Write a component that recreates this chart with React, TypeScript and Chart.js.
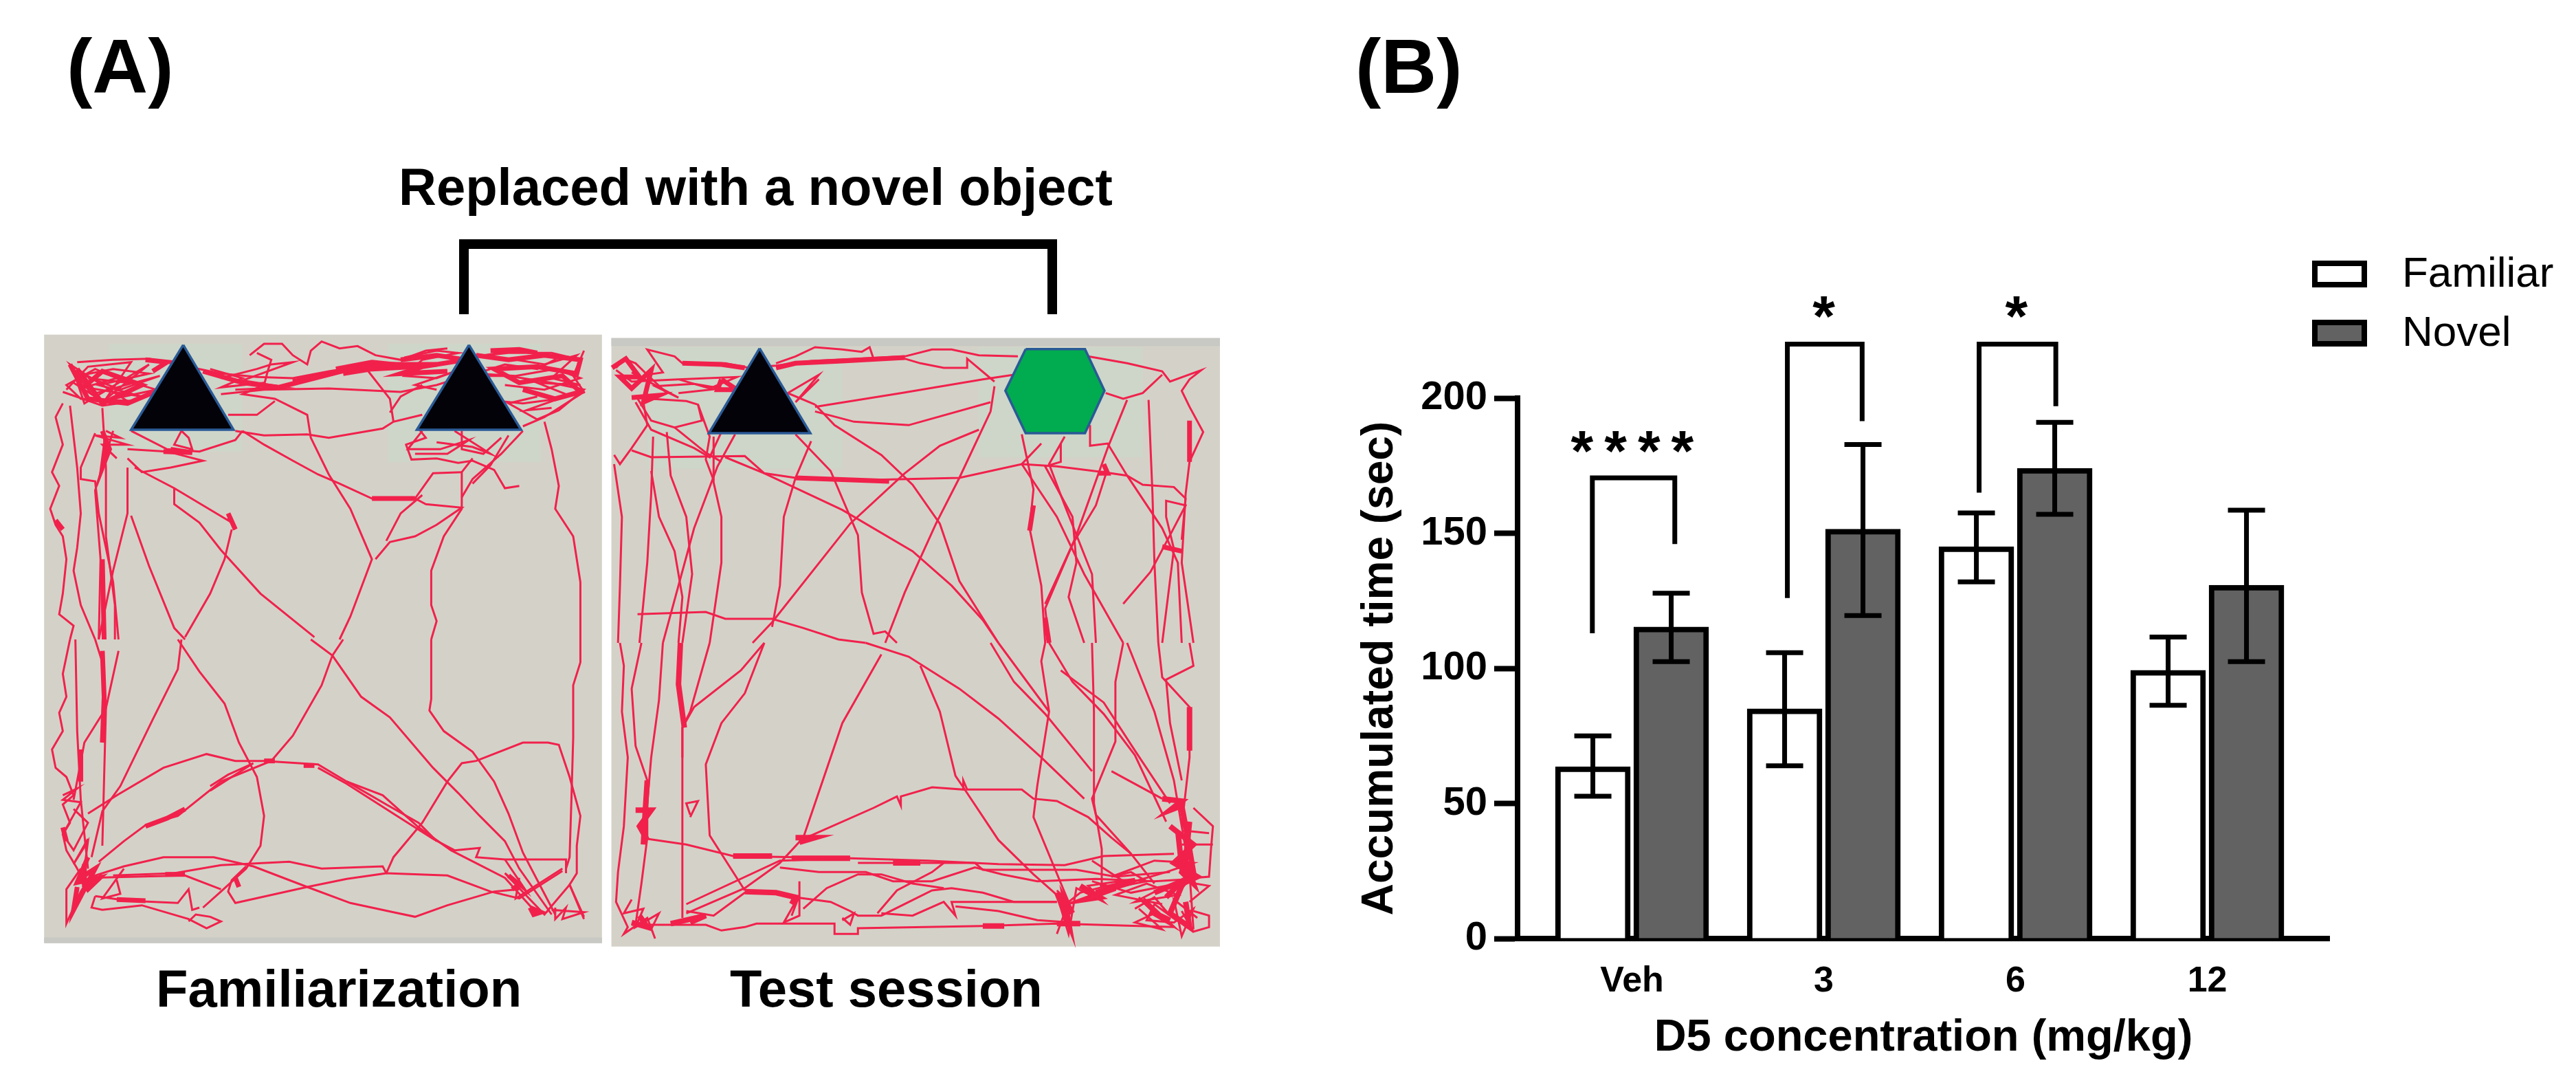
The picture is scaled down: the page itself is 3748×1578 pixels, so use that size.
import React, { useEffect, useRef } from "react";
import { Chart, registerables } from "chart.js";

Chart.register(...registerables);

// ---------- Panel B data ----------
const categories = ["Veh", "3", "6", "12"];
const familiar = [63.6, 85, 145, 99.3];
const novel = [115.3, 151.5, 174, 130.8];
const familiarErrHigh = [75, 105.8, 157.5, 111.6];
const familiarErrLow = [52.7, 63.9, 132, 86.3];
const novelErrHigh = [127.8, 182.8, 191, 158.5];
const novelErrLow = [102.5, 119.5, 157, 102.5];
const yTicks = [0, 50, 100, 150, 200];

// bracket: [x left, x right, y top, y left end, y right end] in axis units
const brackets = [
  [-0.207, 0.223, 170.5, 113, 146],
  [0.81, 1.2, 220, 126, 191.5],
  [1.81, 2.21, 220, 165, 197],
];
const starLabels = ["****", "*", "*"];
const starX = [0.03, 1.0, 2.005];
const starY = [173, 223, 223];

// ---------- Panel A data: tracks in tracker units (x 0-1568, y 0-1350 per half of the arena) ----------
const famUpper: number[][] = [
  [100,140,200,130,300,125,360,145,440,170,500,190,600,205,700,210,800,180,900,155,1000,160,1100,150,1180,120,1300,100,1420,100,1500,130],
  [580,110,620,60,670,60,700,110,740,150,750,90,780,50,830,80,880,70,930,110,1000,130,1070,90,1130,80],
  [600,100,640,130,630,180,620,240,560,280,650,300,740,370,750,470,800,630,860,780,920,1000,860,1250,830,1350],
  [500,280,620,260,800,255,1000,270,1100,240,1180,200,1300,200,1420,230,1510,260,1440,350,1380,390,1300,320,1380,290],
  [520,370,600,370,650,310],
  [540,440,620,460,740,455,800,470,950,430,980,400,1060,370],
  [980,400,970,300,910,180],
  [970,360,1000,290,1060,240],
  [560,440,620,500,700,570,770,630,830,670,920,735,1040,735,1070,760,1170,775,1100,850,1040,900,970,925,930,1000],
  [1060,720,1000,800,960,920],
  [1170,620,1090,625,1040,735],
  [1330,680,1290,690,1260,610,1200,570,1160,580,1100,560,1030,565,1015,500,1070,470,1050,430],
  [1200,560,1170,620,1170,700,1170,780,1120,900,1085,1050,1085,1200,1100,1270,1085,1350],
  [1340,440,1280,540,1200,650,1170,730],
  [1300,460,1250,590,1200,670],
  [1170,440,1170,520,1230,540,1280,470],
  [1100,490,1200,510,1250,540,1150,440],
  [1060,440,1020,520,1110,520,1190,480,1130,540,1040,540],
  [1400,400,1420,520,1440,680,1430,780,1480,900,1500,1100,1500,1350],
  [1510,90,1480,200,1510,270,1400,380,1340,420],
  [250,440,350,520,440,530,540,480,560,440],
  [390,440,370,500,420,520,410,470,390,440],
  [240,520,350,530,450,570,360,600,280,620,240,560],
  [260,600,370,690,530,840,540,870,520,820],
  [370,690,370,760,440,840,500,960,610,1150,760,1340],
  [530,870,510,1000,470,1150,400,1340],
  [250,810,300,1030,370,1300,400,1350],
  [60,320,40,380,60,500,30,620,50,680,25,780,40,850,60,900,70,1000,60,1150,50,1240,90,1290,80,1350],
  [80,330,100,600,110,800,100,950,90,1050,110,1200,150,1350],
  [170,340,180,600,180,900,205,1200,205,1350],
  [200,440,150,700,165,1000,160,1350],
  [240,600,240,800,200,1050,160,1350],
  [150,450,110,600,110,650,150,660,160,800,200,1100,215,1350],
  [70,260,130,160,250,140,180,300,300,150,120,320,90,180,220,260,330,200,140,280,80,150,250,320],
  [100,200,200,170,300,190,160,240,280,290,120,250,210,210,320,260,170,310,90,230],
  [1230,110,1320,90,1440,120,1380,170,1290,150,1210,190,1320,200,1430,170,1500,210,1400,260,1290,240],
  [1010,120,1100,90,1160,100,1060,130,1010,200,1100,210,1170,170,1040,240,1100,260],
  [1210,300,1340,320,1440,300,1350,350,1420,340],
  [500,210,600,170,640,150,700,140,560,220,680,250,540,260],
  [470,170,560,210,500,250,620,230],
  [180,440,220,470,150,460,240,500,170,500,210,560],
  [60,270,170,330,260,310,110,300,70,240,150,170,240,230,130,210],
  [1320,130,1400,150,1490,110,1420,210,1500,240,1380,230,1460,280],
];
const famUpperDense: number[][] = [
  [450,180,560,230,660,250,760,210,860,170,960,150,1100,150],
  [80,150,130,300,240,320,330,260],
  [100,170,170,320,280,240,170,180,110,260],
  [1210,110,1300,130,1400,110,1500,130,1490,190,1380,160,1260,170,1330,230,1450,200,1500,270,1430,300,1340,260],
  [1000,130,1100,110,1180,130,1060,160,1000,190,1130,180],
  [170,440,190,520,170,600,180,480],
  [340,530,420,535,360,520],
  [820,170,920,140,1040,160,920,170,840,190],
  [290,130,350,140,310,180],
  [700,225,800,190,880,165],
  [1250,90,1330,85,1380,100],
  [920,735,1040,735],
  [40,830,60,870],
  [520,800,540,870],
  [170,1000,175,1350],
];
const famLower: number[][] = [
  [80,0,60,150,70,250,50,320,60,400,30,480,40,560,70,600,90,680,60,720,80,800,60,850,70,920,100,1000,120,1060],
  [95,0,100,400,110,700,130,1000],
  [215,50,180,300,120,450,90,700],
  [150,0,170,100,180,300,175,600,170,900],
  [390,0,380,130,310,350,220,640,170,750,140,950],
  [380,0,440,140,510,280,550,450,600,600,620,770,610,900,570,1000,500,1100,450,1170],
  [840,0,810,70,780,200,700,420,640,530,500,620,380,770,290,810,230,880,160,970],
  [750,0,810,70,890,250,970,340,1090,560,1160,670,1220,770,1290,880,1330,1000,1420,1200],
  [1085,0,1085,260,1080,310,1120,400,1200,490,1260,620,1300,760,1340,930,1430,1200],
  [1500,0,1500,100,1480,200,1480,430,1475,700,1470,950,1460,1000],
  [1510,1220,1470,1070,1490,1020,1490,900,1500,770,1470,600,1440,460,1410,450,1340,450,1210,530,1170,540,1130,620,1060,800,980,950,960,1020],
  [130,760,210,680,340,560,460,500,540,530,620,530,770,545,850,620,950,680,1050,820,1140,920,1290,1040,1370,1180],
  [770,560,850,630,990,770,1090,870,1150,920,1220,910,1210,950,1290,960,1460,960,1460,1020],
  [130,1040,230,990,340,950,480,950,590,990,740,1080,860,1150,980,1190,1040,1210,1130,1160,1260,1100,1330,1090],
  [200,1030,370,1020,500,985,690,970,780,1000,950,990,960,1020,850,1045,740,1080,540,1150,520,1100,530,1050,570,990],
  [130,1040,400,1030,500,1090],
  [960,1020,1130,1030,1250,1100,1330,1130,1450,1010],
  [150,1120,240,1140,380,1150,410,1090,420,1180,440,1170],
  [150,1120,140,1170,170,1180,280,1160,410,1220,460,1260,500,1230,470,1210,430,1200,410,1230],
  [110,1000,70,1090,70,1240,110,1100,130,1050],
  [1430,1170,1430,1220,1460,1170,1450,1220,1510,1190,1420,1180],
  [1330,1040,1320,1130,1450,1000],
  [60,680,100,650,60,700,110,710,60,850,90,920,130,800,90,740],
  [1290,960,1350,1100,1290,1020,1400,1200,1470,1070,1510,1210],
  [470,640,520,590,590,540,470,660],
  [850,620,960,720,1050,800,1100,880],
  [130,870,90,980,130,880,120,1000],
  [210,1050,220,1110,170,1130,230,1000],
];
const famLowerDense: number[][] = [
  [170,50,175,250,170,450],
  [130,950,100,1060,160,1040,120,1090,150,1000,110,1040,130,1090,170,1030],
  [100,1080,90,1180,120,1090],
  [400,740,350,780,290,815],
  [1360,1170,1390,1190,1370,1200,1360,1170],
  [1300,1030,1330,1070,1310,1090],
  [110,480,110,620],
  [345,1025,400,1025],
  [210,1135,290,1140],
  [540,1040,550,1080],
  [120,980,120,1080],
  [60,820,70,880],
  [620,530,650,530],
  [730,550,760,550],
];
const testUpper: number[][] = [
  [20,150,40,110,70,130,100,180,140,170,100,70,170,100,190,130,300,130,360,150,430,140,520,120,760,100,830,70,880,70,950,95,1050,100],
  [430,130,480,100,530,60,600,70,650,80,670,60,680,110,760,110,800,130,860,150,920,150,920,110,990,210],
  [20,160,60,210,180,200,330,190,260,240,180,200],
  [60,280,200,295,230,310,240,380,170,410,110,380,70,270],
  [100,180,150,260,90,300,100,400,60,500,30,570,15,530],
  [60,510,110,540,350,535,400,610,480,630,650,640,900,630,1060,570,1150,580,1270,605,1330,620,1370,660,1450,670,1480,720,1470,900],
  [300,540,400,610,600,770,780,950,880,1100,960,1250,1000,1350],
  [480,440,570,600,640,880,650,1130,680,1310,710,1300,740,1350],
  [530,310,580,400,700,530,780,660,850,830,900,1080,1000,1350],
  [530,320,750,260,960,200,1040,180],
  [530,340,630,385,770,400,980,300],
  [990,230,980,340,900,630,840,830,760,1130,710,1350],
  [950,420,850,490,760,610,620,830,420,1260,370,1350],
  [520,470,480,630,450,800,440,1100,420,1280],
  [325,440,280,580,220,850,180,1100,140,1350],
  [270,450,270,650,290,800,290,1000,260,1350],
  [150,430,160,620,200,800,215,1050,190,1350],
  [115,450,110,700,100,1000,80,1350],
  [110,600,130,800,170,950,190,1150,180,1350],
  [15,570,35,800,30,1100,25,1350],
  [75,1225,250,1215,300,1245,420,1245,500,1285,590,1335,660,1350],
  [1230,100,1330,130,1420,165,1440,210,1520,160,1490,200,1470,250,1490,320,1525,430,1490,560,1480,700,1470,1000,1500,1350],
  [1275,260,1320,285,1370,260,1420,180],
  [1330,290,1280,500,1200,880,1120,1200,1130,1350],
  [1385,290,1395,700,1400,1000,1410,1350],
  [1235,400,1235,490,1280,480,1330,620,1420,850,1460,1000,1470,1350],
  [1060,440,1090,680,1080,850,1110,1100,1120,1350],
  [1110,480,1060,570,1150,800,1220,1050,1320,1350],
  [1170,450,1130,570,1170,750,1240,1050,1250,1350],
  [1160,480,1160,560,1120,580,1190,800,1200,1000,1180,1150,1220,1350],
  [1320,1180,1390,1040,1440,880,1480,750,1430,730,1430,800,1450,940,1420,1350],
  [1280,590,1250,750,1190,920,1120,1180],
  [540,200,480,300,540,180,460,260,530,310],
  [70,300,110,420,220,500,260,540,290,430],
  [230,310,260,450,250,550,270,640],
  [60,170,180,280,120,230,220,220,290,240,180,260],
  [170,410,250,520,290,560],
];
const testUpperDense: number[][] = [
  [10,150,45,110,80,190,30,190,60,240,110,160,90,300,130,270,60,280],
  [190,130,290,135,350,150],
  [290,200,330,245,280,245,290,200],
  [430,150,480,130,600,120,760,105],
  [1120,1240,1130,1350],
  [1420,930,1470,950],
  [1270,570,1280,610,1255,610],
  [1090,750,1080,860],
  [1490,380,1490,560],
  [480,630,720,645],
];
const testLower: number[][] = [
  [30,0,40,100,35,300,50,500,40,800,25,1000,20,1130,50,1240,40,1270,100,1200,120,1290],
  [85,0,60,200,70,450,100,600,100,850,85,1050,70,1230],
  [140,0,130,250,110,500,100,700],
  [260,0,210,300,190,370,190,700,190,1130,190,1200],
  [400,0,350,220,290,350,250,530,260,840,350,1080],
  [400,0,340,120,220,280,190,370,190,500],
  [210,760,230,690,200,700,210,750],
  [100,855,200,880,320,930,620,940,820,950,1000,965,1170,970,1270,930,1450,920],
  [700,50,600,350,500,850,440,960,350,1070,200,1180],
  [200,1140,440,950,620,940],
  [500,850,520,840,680,720,740,670,750,710,750,670,830,630,910,640,910,600,920,640,1060,640,1090,680,1150,690,1230,760,1290,850,1340,920],
  [660,0,770,60,900,200,1000,330,1110,500,1220,680],
  [800,100,850,300,890,580,910,630,1000,860,1090,1010,1150,1100],
  [980,0,1040,170,1120,310,1240,560],
  [1000,0,1130,300,1100,620,1090,760,1180,1130,1150,1270],
  [1120,0,1110,80,1130,300],
  [1130,0,1190,170,1270,310,1350,490,1430,780],
  [1240,0,1245,300,1245,700,1265,900,1265,1050],
  [1320,0,1300,170,1300,430,1240,680,1250,750,1340,920,1400,1050],
  [1330,0,1400,300,1450,600,1470,800],
  [1410,0,1420,150,1490,280,1490,500,1470,800,1490,1000,1500,1250],
  [1490,0,1500,100,1430,160,1440,350,1470,600],
  [1160,120,1270,260,1350,470,1440,700],
  [1290,560,1420,680],
  [440,980,540,1000,660,1000,730,1040,830,1040,940,980,1010,1010,1100,1040,1250,1030,1400,1040,1500,1030],
  [640,960,720,960,820,960,940,960,960,990,1040,990,1200,990,1300,1020,1440,1000],
  [200,1170,270,1190,350,1090,430,1090,480,1110,570,1130,620,1170,640,1190,700,1190,830,1080,880,1070,960,1090,1040,1130,1150,1130],
  [500,1160,560,1070,640,1010,700,1010,780,1050,860,1070],
  [690,1180,740,1080,830,1000,860,960],
  [700,1180,780,1190,860,1130,890,1190,880,1130,1000,1130,1150,1130],
  [890,1150,1000,1170,1100,1210,1190,1220],
  [60,1230,150,1230,250,1230,290,1255,350,1240,380,1225,580,1225,580,1270,640,1270,640,1245,960,1235,1150,1225,1450,1240],
  [490,1040,490,1190,450,1220,490,1100,470,1190],
  [600,1210,630,1180,620,1230,600,1200],
  [1500,720,1550,800,1545,900,1540,1020,1470,1030],
  [1480,820,1540,830],
  [1470,880,1550,880],
  [1470,1040,1540,1060,1490,1130],
  [1500,1170,1540,1190,1540,1240,1500,1260,1470,1170],
  [1350,1160,1400,1110,1440,1190,1400,1140,1380,1210,1450,1220,1500,1160,1470,1280,1450,1120,1510,1200],
  [1150,1100,1180,1270,1200,1070,1270,1130,1230,1060,1350,1030,1210,1090,1180,1130,1150,1080],
  [1240,1040,1340,1090,1430,1060,1350,1130,1460,1100,1380,1050,1300,1100,1420,1140],
  [60,1120,40,1180,90,1160,70,1240,130,1180,110,1250],
  [1360,1110,1400,1180,1350,1220,1420,1250,1360,1160],
  [1290,1020,1340,1000,1380,1040,1320,1060,1260,1060],
  [1240,950,1330,1050,1430,1000,1500,960,1400,950,1290,1020],
];
const testLowerDense: number[][] = [
  [185,0,180,180,195,370],
  [100,600,95,730,90,880],
  [70,730,110,730,80,800,100,860],
  [1490,280,1490,470],
  [1420,680,1470,690,1440,730,1470,710,1480,800,1490,900,1470,1000,1500,1050,1480,950,1490,780],
  [1480,800,1500,1000,1470,1060],
  [1460,820,1470,980],
  [1210,1060,1260,1110,1220,1120,1300,1070,1250,1090,1350,1040],
  [1150,1090,1180,1220,1170,1120,1190,1180],
  [1370,1120,1420,1200,1390,1170,1440,1210],
  [350,1085,430,1090,480,1110,470,1140],
  [160,1225,250,1190,210,1220],
  [60,1220,100,1240,80,1190],
  [480,850,530,850,490,870],
  [730,960,800,960],
  [960,1235,1015,1235],
  [1150,1225,1210,1225],
  [1440,800,1500,880,1450,960,1510,1020,1460,1060],
  [1470,1060,1440,1180,1490,1240,1480,1130],
  [1400,1090,1470,1040,1430,1110],
  [320,930,420,930],
  [470,940,620,940],
];

// objects, closed outlines in tracker units
const famObjectA = [395,65,535,435,250,435,395,65];
const famObjectB = [1190,65,1335,435,1045,435,1190,65];
const testObjectA = [388,65,518,435,258,435,388,65];
const testObjectB = [1070,68,1222,68,1272,250,1222,435,1070,435,1018,250,1070,68];

const toPoints = (flat: number[], dy = 0) => {
  const pts: { x: number; y: number }[] = [];
  for (let i = 0; i < flat.length; i += 2) pts.push({ x: flat[i], y: flat[i + 1] + dy });
  return pts;
};

const trackDs = (flat: number[], dy: number, width: number) => ({
  data: toPoints(flat, dy),
  borderColor: "#f1214c",
  backgroundColor: "transparent",
  borderWidth: width,
  pointRadius: 0,
  tension: 0,
  fill: false,
  order: 2,
});

const objectDs = (flat: number[], fillColor: string) => ({
  data: toPoints(flat),
  borderColor: "#2a5a96",
  backgroundColor: fillColor,
  borderWidth: 3.5,
  pointRadius: 0,
  tension: 0,
  fill: "shape",
  order: 1,
});

const arenaPlugin = (arena: number[], strip: number[], patches: number[][]) => ({
  id: "arenaBackground",
  beforeDatasetsDraw(chart: any) {
    const { ctx, scales } = chart;
    const box = (r: number[], c: string) => {
      const x0 = scales.x.getPixelForValue(r[0]);
      const x1 = scales.x.getPixelForValue(r[1]);
      const y0 = scales.y.getPixelForValue(r[2]);
      const y1 = scales.y.getPixelForValue(r[3]);
      ctx.fillStyle = c;
      ctx.fillRect(x0, y0, x1 - x0, y1 - y0);
    };
    box(arena, "#d4d2c8");
    box(strip, "#c8c8c4");
    patches.forEach((p) => box(p, "#cdd6c9"));
  },
});

const arenaOptions: any = {
  animation: false,
  responsive: false,
  layout: { padding: 0 },
  plugins: { legend: { display: false }, tooltip: { enabled: false } },
  scales: {
    x: { type: "linear", display: false, min: 0, max: 1568 },
    y: { type: "linear", display: false, min: 0, max: 2700, reverse: true },
  },
};

// ---------- Panel text ----------
const panelLabels = ["(A)", "(B)"];
const headline = "Replaced with a novel object";
const arenaCaptions = ["Familiarization", "Test session"];

const figurePlugin = {
  id: "figureMarks",
  afterDatasetsDraw(chart: any) {
    const { ctx, scales } = chart;
    const xs = scales.x;
    const ys = scales.y;
    ctx.save();
    ctx.strokeStyle = "#000";
    ctx.fillStyle = "#000";
    ctx.lineCap = "butt";

    // error bars
    const errs = [
      [familiarErrHigh, familiarErrLow],
      [novelErrHigh, novelErrLow],
    ];
    errs.forEach(([hi, lo], d) => {
      chart.getDatasetMeta(d).data.forEach((bar: any, i: number) => {
        const yh = ys.getPixelForValue(hi[i]);
        const yl = ys.getPixelForValue(lo[i]);
        ctx.lineWidth = 7;
        ctx.beginPath();
        ctx.moveTo(bar.x, yh);
        ctx.lineTo(bar.x, yl);
        ctx.moveTo(bar.x - 27, yh);
        ctx.lineTo(bar.x + 27, yh);
        ctx.moveTo(bar.x - 27, yl);
        ctx.lineTo(bar.x + 27, yl);
        ctx.stroke();
      });
    });

    // significance brackets
    ctx.lineWidth = 7;
    ctx.lineJoin = "miter";
    brackets.forEach(([xl, xr, top, yl, yr]) => {
      ctx.beginPath();
      ctx.moveTo(xs.getPixelForValue(xl), ys.getPixelForValue(yl));
      ctx.lineTo(xs.getPixelForValue(xl), ys.getPixelForValue(top));
      ctx.lineTo(xs.getPixelForValue(xr), ys.getPixelForValue(top));
      ctx.lineTo(xs.getPixelForValue(xr), ys.getPixelForValue(yr));
      ctx.stroke();
    });

    // stars
    ctx.font = 'bold 84px "Liberation Sans"';
    ctx.textAlign = "center";
    ctx.textBaseline = "alphabetic";
    starLabels.forEach((s, i) => {
      (ctx as any).letterSpacing = s.length > 1 ? "16px" : "0px";
      ctx.fillText(s, xs.getPixelForValue(starX[i]), ys.getPixelForValue(starY[i]));
    });
    (ctx as any).letterSpacing = "0px";

    // legend
    const legend: [string, string, number][] = [
      [chart.data.datasets[0].label, "#ffffff", 379],
      [chart.data.datasets[1].label, "#626262", 465],
    ];
    ctx.textAlign = "left";
    ctx.textBaseline = "middle";
    ctx.font = '62px "Liberation Sans"';
    legend.forEach(([name, color, top]) => {
      ctx.fillStyle = color;
      ctx.fillRect(3368, top + 4, 72, 31);
      ctx.strokeStyle = "#000";
      ctx.lineWidth = 8;
      ctx.strokeRect(3368, top + 4, 72, 31);
      ctx.fillStyle = "#000";
      ctx.fillText(name, 3495, top + 21);
    });

    // panel A and B annotation
    ctx.textBaseline = "alphabetic";
    ctx.fillStyle = "#000";
    ctx.font = 'bold 112px "Liberation Sans"';
    ctx.fillText(panelLabels[0], 97, 135);
    ctx.fillText(panelLabels[1], 1972, 135);
    ctx.font = 'bold 76px "Liberation Sans"';
    ctx.fillText(headline, 580, 298);
    ctx.fillText(arenaCaptions[0], 227, 1464);
    ctx.fillText(arenaCaptions[1], 1062, 1464);

    ctx.strokeStyle = "#000";
    ctx.lineWidth = 14;
    ctx.lineJoin = "miter";
    ctx.beginPath();
    ctx.moveTo(675, 457);
    ctx.lineTo(675, 355);
    ctx.lineTo(1531, 355);
    ctx.lineTo(1531, 457);
    ctx.stroke();
    ctx.restore();
  },
};

const canvasStyle = (l: number, t: number, soft = false): React.CSSProperties => ({
  position: "absolute",
  left: l,
  top: t,
  display: "block",
  filter: soft ? "blur(0.7px)" : undefined,
});

export default function App() {
  const mainRef = useRef<HTMLCanvasElement>(null);
  const famRef = useRef<HTMLCanvasElement>(null);
  const testRef = useRef<HTMLCanvasElement>(null);

  useEffect(() => {
    const bars = new Chart(mainRef.current!, {
      type: "bar",
      data: {
        datasets: [
          {
            label: "Familiar",
            data: familiar.map((y, x) => ({ x, y })),
            backgroundColor: "#ffffff",
            borderColor: "#000",
            borderWidth: 8,
          },
          {
            label: "Novel",
            data: novel.map((y, x) => ({ x, y })),
            backgroundColor: "#626262",
            borderColor: "#000",
            borderWidth: 8,
          },
        ] as any,
      },
      options: {
        animation: false,
        responsive: false,
        barThickness: 114,
        maxBarThickness: 109,
        layout: { padding: { left: 1970, right: 359, top: 579, bottom: 29 } },
        plugins: { legend: { display: false }, tooltip: { enabled: false } },
        scales: {
          x: {
            type: "linear",
            bounds: "data",
            offset: false,
            min: -0.597,
            max: 3.636,
            afterBuildTicks: (s: any) => {
              s.ticks = categories.map((_, value) => ({ value }));
            },
            afterFit: (s: any) => {
              s.height = 184;
            },
            grid: { display: false, drawTicks: false, offset: false },
            border: { display: true, width: 8, color: "#000" },
            ticks: {
              autoSkip: false,
              maxRotation: 0,
              minRotation: 0,
              padding: 31,
              color: "#000",
              font: { family: "Liberation Sans", size: 52, weight: "bold" },
              callback: (v: any) => categories[v],
            },
            title: {
              display: true,
              text: "D5 concentration (mg/kg)",
              color: "#000",
              padding: 0,
              font: { family: "Liberation Sans", size: 65, weight: "bold" },
            },
          },
          y: {
            type: "linear",
            min: 0,
            max: 200,
            afterFit: (s: any) => {
              s.width = 238;
            },
            afterBuildTicks: (s: any) => {
              s.ticks = yTicks.map((value) => ({ value }));
            },
            grid: {
              display: true,
              drawOnChartArea: false,
              drawTicks: true,
              tickLength: 34,
              tickWidth: 8,
              tickColor: "#000",
            },
            border: { display: true, width: 8, color: "#000" },
            ticks: {
              padding: 10,
              color: "#000",
              font: { family: "Liberation Sans", size: 58, weight: "bold" },
            },
            title: {
              display: true,
              text: "Accumulated time (sec)",
              color: "#000",
              padding: 0,
              font: { family: "Liberation Sans", size: 64, weight: "bold" },
            },
          },
        },
      } as any,
      plugins: [figurePlugin as any],
    });

    const fam = new Chart(famRef.current!, {
      type: "line",
      data: {
        datasets: [
          ...famUpper.map((t) => trackDs(t, 0, 3)),
          ...famUpperDense.map((t) => trackDs(t, 0, 7)),
          ...famLower.map((t) => trackDs(t, 1350, 3)),
          ...famLowerDense.map((t) => trackDs(t, 1350, 7)),
          objectDs(famObjectA, "#020208"),
          objectDs(famObjectB, "#020208"),
        ] as any,
      },
      options: arenaOptions,
      plugins: [
        arenaPlugin([8, 1560, 20, 2675], [8, 1560, 2650, 2675], [
          [190, 560, 60, 530],
          [965, 1390, 60, 575],
        ]) as any,
      ],
    });

    const test = new Chart(testRef.current!, {
      type: "line",
      data: {
        datasets: [
          ...testUpper.map((t) => trackDs(t, 0, 3)),
          ...testUpperDense.map((t) => trackDs(t, 0, 7)),
          ...testLower.map((t) => trackDs(t, 1350, 3)),
          ...testLowerDense.map((t) => trackDs(t, 1350, 8)),
          objectDs(testObjectA, "#020208"),
          objectDs(testObjectB, "#00ac4f"),
        ] as any,
      },
      options: arenaOptions,
      plugins: [
        arenaPlugin([8, 1568, 20, 2675], [8, 1568, 20, 55], [
          [100, 600, 60, 590],
          [950, 1370, 60, 540],
        ]) as any,
      ],
    });

    return () => {
      bars.destroy();
      fam.destroy();
      test.destroy();
    };
  }, []);

  return (
    <div style={{ position: "absolute", left: 0, top: 0, width: 3748, height: 1578, background: "#fff", overflow: "hidden" }}>
      <canvas ref={mainRef} width={3748} height={1578} style={canvasStyle(0, 0)} />
      <canvas ref={famRef} width={820} height={900} style={canvasStyle(60, 480, true)} />
      <canvas ref={testRef} width={890} height={900} style={canvasStyle(885, 485, true)} />
    </div>
  );
}
